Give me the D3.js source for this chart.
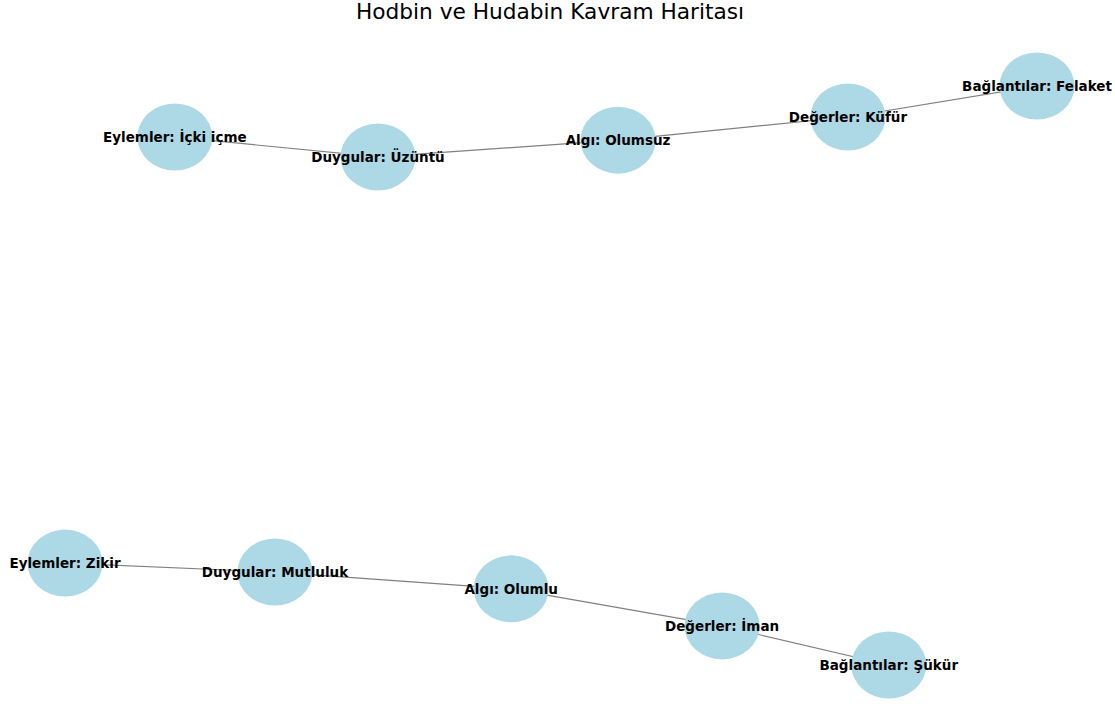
<!DOCTYPE html>
<head>
  <style>
    body { margin: 0; background: #fff; }
    text { font-family: "DejaVu Sans", sans-serif; }
  </style>
  <title>Hodbin ve Hudabin Kavram Haritası</title>
</head>
<body>
  <script src="https://cdn.jsdelivr.net/npm/d3@7"></script>
  <script>
    // node names and layout positions (layout units, roughly -1..1)
    var nodeNames = [
      "Eylemler: İçki içme", "Duygular: Üzüntü", "Algı: Olumsuz", "Değerler: Küfür", "Bağlantılar: Felaket",
      "Eylemler: Zikir", "Duygular: Mutluluk", "Algı: Olumlu", "Değerler: İman", "Bağlantılar: Şükür"
    ];
    var nodeX = [-0.774, -0.356, 0.138, 0.611, 1.0, -1.0, -0.568, -0.082, 0.352, 0.695];
    var nodeY = [0.824, 0.755, 0.813, 0.893, 1.0, -0.648, -0.679, -0.737, -0.865, -1.0];

    // edges as [source, target]
    var edgeSource = ["Eylemler: İçki içme", "Duygular: Üzüntü", "Algı: Olumsuz", "Değerler: Küfür",
                      "Eylemler: Zikir", "Duygular: Mutluluk", "Algı: Olumlu", "Değerler: İman"];
    var edgeTarget = ["Duygular: Üzüntü", "Algı: Olumsuz", "Değerler: Küfür", "Bağlantılar: Felaket",
                      "Duygular: Mutluluk", "Algı: Olumlu", "Değerler: İman", "Bağlantılar: Şükür"];

    var width = 1115;
    var height = 704;

    var x = d3.scaleLinear().domain([-1, 1]).range([65, 1037]);
    var y = d3.scaleLinear().domain([-1, 1]).range([665, 86]);

    var nodes = nodeNames.map(function(n, i) { return { name: n, x: nodeX[i], y: nodeY[i] }; });
    var byName = {};
    nodes.forEach(function(d) { byName[d.name] = d; });
    var edges = edgeSource.map(function(s, i) { return { source: byName[s], target: byName[edgeTarget[i]] }; });

    var svg = d3.select("body").append("svg")
      .attr("width", width)
      .attr("height", height);

    // title
    svg.append("text")
      .attr("x", 550)
      .attr("y", 19)
      .attr("text-anchor", "middle")
      .attr("font-size", "21.7px")
      .attr("fill", "#000")
      .text("Hodbin ve Hudabin Kavram Haritası");

    // edges under nodes
    svg.append("g").selectAll("line")
      .data(edges)
      .enter()
      .append("line")
      .attr("x1", function(d) { return x(d.source.x); })
      .attr("y1", function(d) { return y(d.source.y); })
      .attr("x2", function(d) { return x(d.target.x); })
      .attr("y2", function(d) { return y(d.target.y); })
      .attr("stroke", "#808080")
      .attr("stroke-width", 1.2);

    // nodes
    svg.append("g").selectAll("ellipse")
      .data(nodes)
      .enter()
      .append("ellipse")
      .attr("cx", function(d) { return x(d.x); })
      .attr("cy", function(d) { return y(d.y); })
      .attr("rx", 37.5)
      .attr("ry", 33.5)
      .attr("fill", "#add8e6");

    // labels
    svg.append("g").selectAll("text")
      .data(nodes)
      .enter()
      .append("text")
      .attr("x", function(d) { return x(d.x); })
      .attr("y", function(d) { return y(d.y); })
      .attr("dy", "0.35em")
      .attr("text-anchor", "middle")
      .attr("font-size", "13.5px")
      .attr("font-weight", "bold")
      .attr("fill", "#000")
      .text(function(d) { return d.name; });
  </script>
</body>
